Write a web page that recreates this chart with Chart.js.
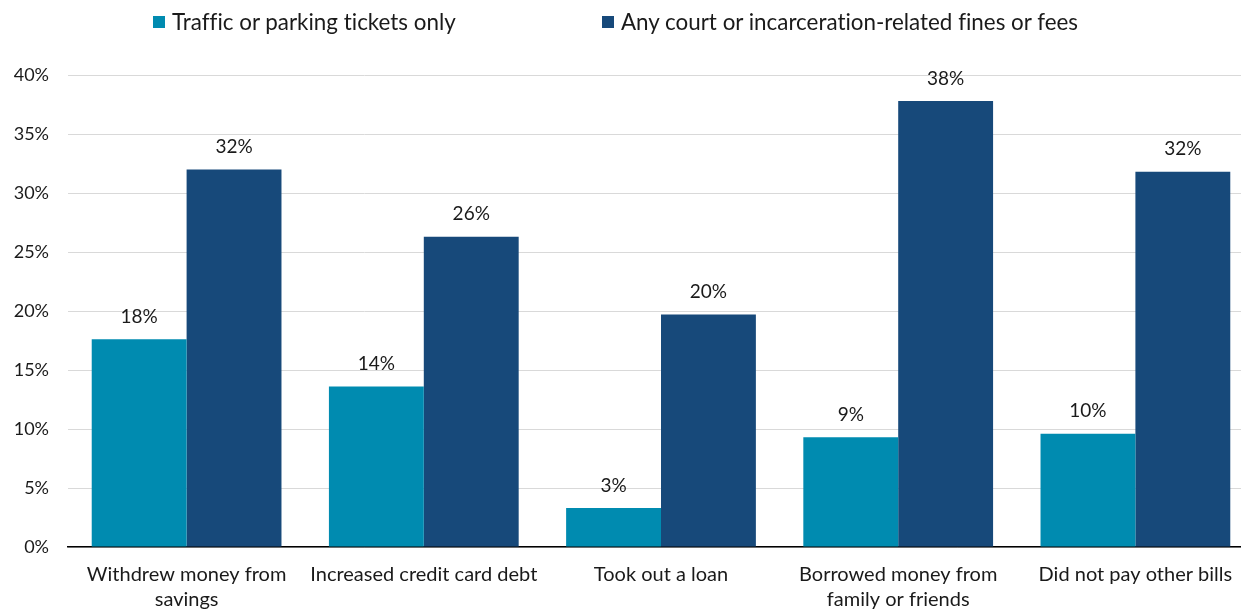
<!DOCTYPE html>
<html>
<head>
<meta charset="utf-8">
<script src="https://cdn.jsdelivr.net/npm/chart.js@4.4.1/dist/chart.umd.min.js"></script>
<style>
  html, body { margin: 0; padding: 0; background: #fff; overflow: hidden; }
  #wrap { position: relative; width: 1241px; height: 611px; overflow: hidden; }
  #box { position: absolute; left: 0; top: 0; width: 1254px; height: 611px; }
  .leg { position: absolute; top: 8px; font-family: Lato, sans-serif; font-size: 22.4px; color: #1a1a1a; white-space: nowrap; font-variant-ligatures: none; font-feature-settings: "liga" 0; }
  .leg i { position: absolute; top: 8px; width: 12px; height: 12px; }
  .leg span { position: absolute; left: 19px; top: 0; }
</style>
</head>
<body>
<div id="wrap">
  <div id="box"><canvas id="myChart"></canvas></div>
  <div class="leg" style="left:153px"><i style="background:#008BB0"></i><span>Traffic or parking tickets only</span></div>
  <div class="leg" style="left:602px"><i style="background:#17497A"></i><span>Any court or incarceration-related fines or fees</span></div>
</div>
<script>
let categories = [
  ["Withdrew money from", "savings"],
  "Increased credit card debt",
  "Took out a loan",
  ["Borrowed money from", "family or friends"],
  "Did not pay other bills"
]
let seriesNames = ["Traffic or parking tickets only", "Any court or incarceration-related fines or fees"]
let trafficOnly = [17.6, 13.6, 3.3, 9.3, 9.6]
let courtFines = [32.0, 26.3, 19.7, 37.8, 31.8]
let barColors = ["#008BB0", "#17497A"]

// draws the rounded % above each bar
const barLabels = {
  id: "barLabels",
  afterDatasetsDraw(chart) {
    const ctx = chart.ctx
    ctx.save()
    ctx.font = "19px Lato"
    ctx.fillStyle = "#1a1a1a"
    ctx.textAlign = "center"
    ctx.textBaseline = "bottom"
    chart.data.datasets.forEach(function(ds, i) {
      chart.getDatasetMeta(i).data.forEach(function(bar, j) {
        ctx.fillText(Math.round(ds.data[j]) + "%", bar.x, bar.y - 13)
      })
    })
    ctx.restore()
  }
}

new Chart("myChart", {
  type: "bar",
  data: {
    labels: categories,
    datasets: [
      { label: seriesNames[0], data: trafficOnly, backgroundColor: barColors[0] },
      { label: seriesNames[1], data: courtFines, backgroundColor: barColors[1] }
    ]
  },
  options: {
    responsive: true,
    maintainAspectRatio: false,
    animation: false,
    layout: { padding: { top: 75, right: 0, left: 0, bottom: 0 } },
    datasets: { bar: { categoryPercentage: 0.8, barPercentage: 1.0 } },
    plugins: {
      legend: { display: false },
      tooltip: { enabled: false }
    },
    scales: {
      x: {
        grid: { display: false, drawTicks: false },
        border: { display: true, color: "#000", width: 1.5 },
        ticks: {
          color: "#1a1a1a",
          font: { family: "Lato", size: 20, lineHeight: 1.25 },
          padding: 15,
          maxRotation: 0,
          autoSkip: false
        },
        afterFit: function(scale) { scale.height = 64 }
      },
      y: {
        min: 0,
        max: 40,
        grid: { color: "#d9d9d9", drawTicks: false },
        border: { display: false },
        ticks: {
          stepSize: 5,
          color: "#1a1a1a",
          font: { family: "Lato", size: 18 },
          padding: 19,
          callback: function(v) { return v + "%" }
        },
        afterFit: function(scale) { scale.width = 68 }
      }
    }
  },
  plugins: [barLabels]
})
</script>
</body>
</html>
